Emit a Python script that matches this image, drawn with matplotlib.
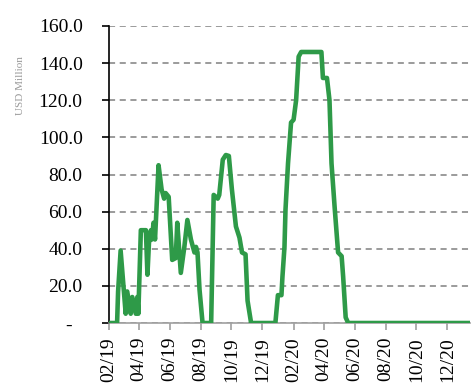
import matplotlib
matplotlib.use("Agg")
import matplotlib.pyplot as plt
import matplotlib.dates as mdates
import pandas as pd

dates = [
    "2019-02-01", "2019-02-17", "2019-02-19", "2019-02-24", "2019-03-06", "2019-03-09",
    "2019-03-16", "2019-03-19", "2019-03-26", "2019-03-29", "2019-03-31", "2019-04-05",
    "2019-04-15", "2019-04-18", "2019-04-21", "2019-04-25", "2019-04-27", "2019-04-30",
    "2019-05-03", "2019-05-10", "2019-05-16", "2019-05-21", "2019-05-24", "2019-05-30",
    "2019-06-06", "2019-06-13", "2019-06-16", "2019-06-23", "2019-06-30", "2019-07-06",
    "2019-07-13", "2019-07-20", "2019-07-23", "2019-07-26", "2019-07-30", "2019-08-05",
    "2019-08-22", "2019-08-27", "2019-09-04", "2019-09-07", "2019-09-14", "2019-09-20",
    "2019-09-26", "2019-10-02", "2019-10-10", "2019-10-17", "2019-10-22", "2019-10-29",
    "2019-11-02", "2019-11-09", "2019-12-27", "2020-01-01", "2020-01-08", "2020-01-10",
    "2020-01-14", "2020-01-16", "2020-01-21", "2020-01-27", "2020-02-01", "2020-02-06",
    "2020-02-11", "2020-02-16", "2020-03-27", "2020-03-30", "2020-04-07", "2020-04-12",
    "2020-04-16", "2020-04-22", "2020-04-29", "2020-05-06", "2020-05-09", "2020-05-14",
    "2020-05-19", "2021-01-11",
]
values = [
    0, 0, 17, 39, 5, 17,
    5, 14, 5, 14, 5, 50,
    50, 26, 43, 50, 45, 54,
    45, 85, 72, 67, 70, 68,
    34, 35, 54, 27, 41, 55.5,
    45, 38, 41, 38, 18, 0,
    0, 69, 67, 69, 88, 90.5,
    90, 72, 52, 46, 38, 37,
    12, 0, 0, 15, 15, 25,
    41, 61, 86, 108, 109.5, 120,
    143.5, 146, 146, 132, 132, 120,
    86, 63, 38, 36, 25, 3,
    0, 0,
]
y_ticks = [0, 20, 40, 60, 80, 100, 120, 140, 160]
y_tick_labels = ["-  ", "20.0", "40.0", "60.0", "80.0", "100.0", "120.0", "140.0", "160.0"]
y_label = "USD Million"

plt.rcParams["font.family"] = ["Liberation Serif", "DejaVu Serif"]

fig = plt.figure(figsize=(4.77, 3.88), dpi=100)
ax = fig.add_axes([0.2285, 0.1675, 0.757, 0.7655])

x = pd.to_datetime(dates)
ax.plot(x, values, color="#2e9a48", lw=3.3, solid_joinstyle="round", zorder=3)

ax.set_ylim(0, 160)
ax.set_xlim(pd.Timestamp("2019-02-01"), pd.Timestamp("2021-01-15"))
ax.set_yticks(y_ticks)
ax.set_yticklabels(y_tick_labels)

ax.xaxis.set_major_locator(mdates.MonthLocator(bymonth=[2, 4, 6, 8, 10, 12]))
ax.xaxis.set_major_formatter(mdates.DateFormatter("%m/%y"))
for lab in ax.get_xticklabels():
    lab.set_rotation(90)

ax.grid(axis="y", color="#808080", linestyle=(0, (4, 3)), lw=1.1, zorder=1)
ax.grid(axis="x", visible=False)

for s in ["top", "right"]:
    ax.spines[s].set_visible(False)
ax.spines["left"].set_color("black")
ax.spines["left"].set_linewidth(1.2)
ax.spines["bottom"].set_color("#a0a0a0")
ax.spines["bottom"].set_linewidth(1.2)

ax.tick_params(axis="y", direction="out", length=5, width=1.2, color="black",
               labelsize=14, pad=14)
ax.tick_params(axis="x", direction="out", length=5, width=1.2, color="#a0a0a0",
               labelsize=14, pad=5)

fig.text(0.043, 0.78, y_label, rotation=90, fontsize=8, color="#9a9a9a",
         ha="center", va="center")

fig.savefig("out.png", dpi=100)
